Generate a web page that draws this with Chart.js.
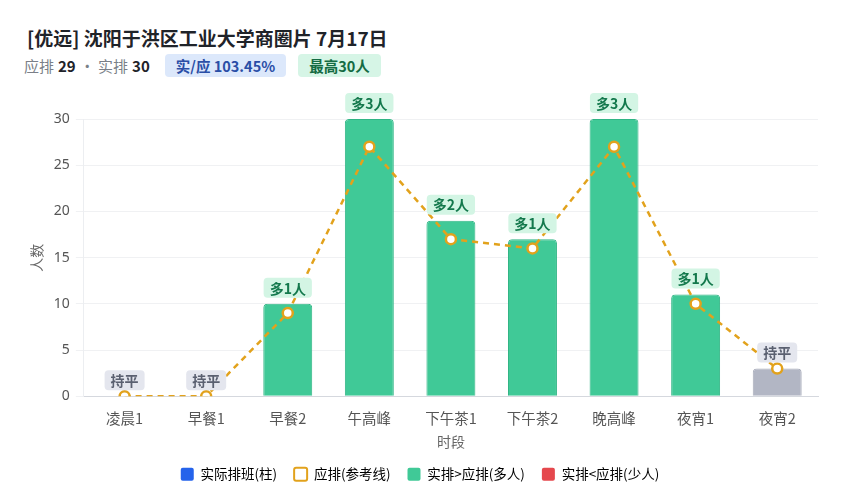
<!DOCTYPE html>
<html>
<head>
<meta charset="utf-8">
<script src="https://cdn.jsdelivr.net/npm/chart.js@4.4.1/dist/chart.umd.min.js"></script>
<style>
  html,body{margin:0;padding:0;background:#fff;}
  body{width:849px;height:500px;position:relative;overflow:hidden;font-family:"Noto Sans CJK SC","Noto Sans",sans-serif;}
  #title{position:absolute;left:27px;top:24px;font-size:19px;font-weight:700;color:#1f2329;line-height:28px;white-space:nowrap;}
  #sub{position:absolute;left:24px;top:54px;font-size:15px;color:#7a7f88;line-height:23px;white-space:nowrap;display:flex;align-items:center;}
  #sub b{color:#1f2329;font-weight:700;margin:0 4px;}
  .pill{display:inline-block;padding:0 11px;border-radius:4px;font-weight:700;font-size:14.5px;line-height:23px;}
  .blue{background:#dce8fb;color:#2a4ea6;margin-left:11px;}
  .green{background:#d6f5e6;color:#146b43;margin-left:12px;}
  #wrap{position:absolute;left:0;top:88px;width:849px;height:412px;}
</style>
</head>
<body>
<div id="title">[优远] 沈阳于洪区工业大学商圈片 7月17日</div>
<div id="sub">应排<b>29</b>· 实排<b>30</b><span class="pill blue">实/应 103.45%</span><span class="pill green">最高30人</span></div>
<div id="wrap"><canvas id="c"></canvas></div>
<script>
const categories = ["凌晨1","早餐1","早餐2","午高峰","下午茶1","下午茶2","晚高峰","夜宵1","夜宵2"];
const actual = [0,0,10,30,19,17,30,11,3];
const planned = [0,0,9,27,17,16,27,10,3];
const yTicks = [0,5,10,15,20,25,30];

const GREEN = '#40c997', GREEN_B = '#31b585', GRAY = '#b2b6c4', GRAY_B = '#a6aab8', RED = '#e5484d', BLUE = '#2563eb', ORANGE = '#e2a21c';
const CJK = '"Noto Sans CJK SC", "Noto Sans", sans-serif';

const barColors = actual.map((v,i)=> v>planned[i] ? GREEN : (v<planned[i] ? RED : GRAY));
const barBorders = actual.map((v,i)=> v>planned[i] ? GREEN_B : (v<planned[i] ? '#cf3a3f' : GRAY_B));

const labelPlugin = {
  id:'diffLabels',
  afterDatasetsDraw(chart){
    const ctx = chart.ctx;
    const bars = chart.getDatasetMeta(1).data;
    const ys = chart.scales.y;
    ctx.save();
    ctx.font = 'bold 14px ' + CJK;
    ctx.textAlign = 'center';
    ctx.textBaseline = 'middle';
    actual.forEach((v,i)=>{
      const d = v - planned[i];
      let txt, bg, fg;
      if (d>0){ txt = '多'+d+'人'; bg = '#d3f5e4'; fg = '#13784c'; }
      else if (d<0){ txt = '少'+(-d)+'人'; bg = '#fde0e0'; fg = '#c0392b'; }
      else { txt = '持平'; bg = '#e4e6ee'; fg = '#5a6070'; }
      const el = bars[i];
      const cx = el.x;
      const top = Math.min(ys.getPixelForValue(v), ys.getPixelForValue(planned[i]));
      const cy = top - 16;
      const w = ctx.measureText(txt).width + 12, h = 20;
      ctx.fillStyle = bg;
      ctx.beginPath();
      ctx.roundRect(cx - w/2, cy - h/2, w, h, 4);
      ctx.fill();
      ctx.fillStyle = fg;
      ctx.fillText(txt, cx, cy + 0.5);
    });
    ctx.restore();
  }
};

new Chart(document.getElementById('c'), {
  data:{
    labels: categories,
    datasets:[
      {
        type:'line', label:'应排', data: planned, order:0,
        borderColor: ORANGE, borderWidth:2.5, borderDash:[6,5], fill:false, tension:0,
        pointRadius:5, pointBorderWidth:2.5, pointBackgroundColor:'#fff', pointBorderColor: ORANGE,
        pointHoverRadius:5
      },
      {
        type:'bar', label:'实际排班', data: actual, order:1,
        backgroundColor: barColors, borderColor: barBorders, borderWidth:1,
        borderRadius:{topLeft:4, topRight:4}, borderSkipped:'bottom',
        barPercentage:0.6, categoryPercentage:1.0
      }
    ]
  },
  options:{
    responsive:true, maintainAspectRatio:false, animation:false,
    layout:{padding:{left:22, right:31, top:31, bottom:9}},
    plugins:{
      tooltip:{enabled:false},
      legend:{
        position:'bottom', onClick:null,
        labels:{
          boxWidth:13, boxHeight:13, padding:17, useBorderRadius:true, borderRadius:2,
          color:'#666', font:{size:13.5, family:CJK},
          generateLabels(){
            return [
              {text:'实际排班(柱)', fillStyle:BLUE, strokeStyle:BLUE, lineWidth:0, borderRadius:2},
              {text:'应排(参考线)', fillStyle:'#fff', strokeStyle:ORANGE, lineWidth:2, borderRadius:2},
              {text:'实排>应排(多人)', fillStyle:GREEN, strokeStyle:GREEN, lineWidth:0, borderRadius:2},
              {text:'实排<应排(少人)', fillStyle:RED, strokeStyle:RED, lineWidth:0, borderRadius:2}
            ];
          }
        }
      }
    },
    scales:{
      x:{
        grid:{display:false},
        border:{display:true, color:'#d5d8de'},
        ticks:{color:'#555', font:{size:14.5, family:CJK}, padding:5},
        title:{display:true, text:'时段', color:'#666', font:{size:14, family:CJK}, padding:{top:2, bottom:0}}
      },
      y:{
        min:0, max:30,
        afterBuildTicks(axis){ axis.ticks = yTicks.map(v=>({value:v})); },
        grid:{color:'#f0f1f3', tickLength:8},
        border:{display:true, color:'#eceef1'},
        ticks:{color:'#555', font:{size:14, family:'"Noto Sans", sans-serif'}, padding:6},
        title:{display:true, text:'人数', color:'#666', font:{size:14, family:CJK}, padding:{top:6, bottom:3}}
      }
    }
  },
  plugins:[labelPlugin]
});
</script>
</body>
</html>
